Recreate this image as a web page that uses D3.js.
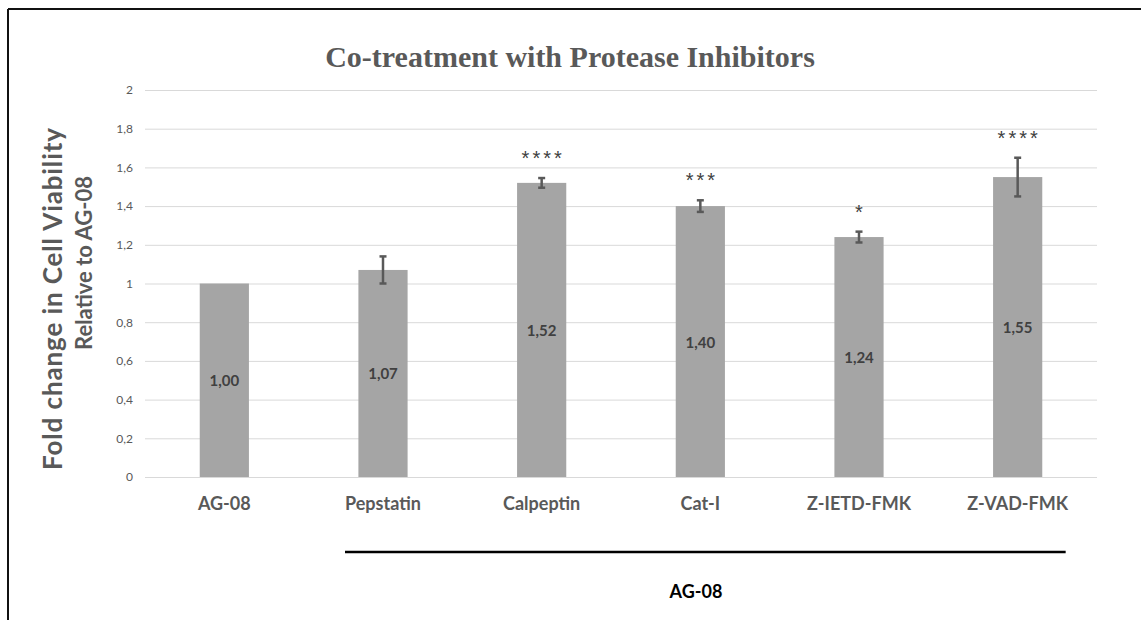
<!DOCTYPE html>
<html>
<head>
<meta charset="utf-8">
<script src="https://cdn.jsdelivr.net/npm/d3@7"></script>
<style>
  body { margin: 0; background: #fff; }
  svg { display: block; }
</style>
</head>
<body>
<svg id="chart" width="1141" height="620"></svg>
<script>
const categories = ['AG-08', 'Pepstatin', 'Calpeptin', 'Cat-I', 'Z-IETD-FMK', 'Z-VAD-FMK'];
const values = [1.00, 1.07, 1.52, 1.40, 1.24, 1.55];
const errors = [0, 0.07, 0.025, 0.03, 0.028, 0.1];
const stars = ['', '', '****', '***', '*', '****'];
const yTicks = [0, 0.2, 0.4, 0.6, 0.8, 1, 1.2, 1.4, 1.6, 1.8, 2];

const svg = d3.select('#chart');
const GREY = '#595959';
const fmt = d => String(d).replace('.', ',');

// frame (only top and left edges are visible in the crop)
svg.append('line').attr('x1', 8).attr('x2', 1141).attr('y1', 9).attr('y2', 9)
  .attr('stroke', '#111').attr('stroke-width', 2);
svg.append('line').attr('x1', 8).attr('x2', 8).attr('y1', 9).attr('y2', 620)
  .attr('stroke', '#111').attr('stroke-width', 2);

const x = d3.scaleBand().domain(categories).range([145, 1097])
  .paddingInner(0.69).paddingOuter(0.345);
const y = d3.scaleLinear().domain([0, 2]).range([477, 90]);

// gridlines + tick labels
const yAxis = d3.axisLeft(y).tickValues(yTicks).tickFormat(fmt)
  .tickSize(-(1097 - 145)).tickPadding(12);
const gy = svg.append('g').attr('transform', 'translate(145,0)').call(yAxis);
gy.select('.domain').remove();
gy.selectAll('.tick line').attr('stroke', '#d9d9d9').attr('stroke-width', 1);
gy.selectAll('.tick text').attr('fill', GREY)
  .style('font-family', 'Lato, sans-serif').style('font-size', '12px');

// bars
svg.append('g').selectAll('rect').data(values).enter().append('rect')
  .attr('x', (d, i) => x(categories[i]))
  .attr('y', d => y(d))
  .attr('width', x.bandwidth())
  .attr('height', d => y(0) - y(d))
  .attr('fill', '#a5a5a5');

// error bars
const cx = i => x(categories[i]) + x.bandwidth() / 2;
const eg = svg.append('g').attr('stroke', '#595959').attr('stroke-width', 2.5);
values.forEach((v, i) => {
  if (!errors[i]) return;
  const t = y(v + errors[i]), b = y(v - errors[i]);
  eg.append('line').attr('x1', cx(i)).attr('x2', cx(i)).attr('y1', t).attr('y2', b);
  eg.append('line').attr('x1', cx(i) - 3.5).attr('x2', cx(i) + 3.5).attr('y1', t).attr('y2', t);
  eg.append('line').attr('x1', cx(i) - 3.5).attr('x2', cx(i) + 3.5).attr('y1', b).attr('y2', b);
});

// value labels
svg.append('g').selectAll('text').data(values).enter().append('text')
  .attr('x', (d, i) => cx(i))
  .attr('y', d => (y(d) + y(0)) / 2 + 6)
  .attr('text-anchor', 'middle')
  .attr('fill', '#404040')
  .style('font-family', 'Lato, sans-serif').style('font-weight', 'bold').style('font-size', '15px')
  .text(d => d.toFixed(2).replace('.', ','));

// significance stars
svg.append('g').selectAll('text').data(values).enter().append('text')
  .attr('x', (d, i) => cx(i) + 1.5)
  .attr('y', (d, i) => y(d + errors[i]) - 13)
  .attr('text-anchor', 'middle')
  .attr('fill', '#404040')
  .style('font-family', '"Liberation Sans", sans-serif').style('font-size', '20px')
  .style('letter-spacing', '3px')
  .text((d, i) => stars[i]);

// category labels
svg.append('g').selectAll('text').data(categories).enter().append('text')
  .attr('x', d => x(d) + x.bandwidth() / 2)
  .attr('y', 510)
  .attr('text-anchor', 'middle')
  .attr('fill', GREY)
  .style('font-family', 'Lato, sans-serif').style('font-weight', 'bold').style('font-size', '18px')
  .text(d => d);

// group bracket
const x0 = cx(1) - 38, x1 = cx(5) + 48;
svg.append('line').attr('x1', x0).attr('x2', x1).attr('y1', 552).attr('y2', 552)
  .attr('stroke', '#000').attr('stroke-width', 2.5);
svg.append('text').attr('x', 696).attr('y', 598).attr('text-anchor', 'middle')
  .attr('fill', '#000')
  .style('font-family', 'Lato, sans-serif').style('font-weight', 'bold').style('font-size', '18px')
  .text('AG-08');

// title
svg.append('text').attr('x', 570).attr('y', 67).attr('text-anchor', 'middle')
  .attr('fill', GREY)
  .style('font-family', '"Liberation Serif", serif').style('font-weight', 'bold').style('font-size', '30px')
  .text('Co-treatment with Protease Inhibitors');

// y axis title
const yt = svg.append('g').attr('fill', GREY)
  .style('font-family', 'Lato, sans-serif').style('font-weight', 'bold')
  .attr('text-anchor', 'middle');
yt.append('text').attr('transform', 'translate(62,299) rotate(-90)')
  .style('font-size', '26px')
  .attr('textLength', 342).attr('lengthAdjust', 'spacing')
  .text('Fold change in Cell Viability');
yt.append('text').attr('transform', 'translate(92,263) rotate(-90)')
  .style('font-size', '22px')
  .text('Relative to AG-08');
</script>
</body>
</html>
